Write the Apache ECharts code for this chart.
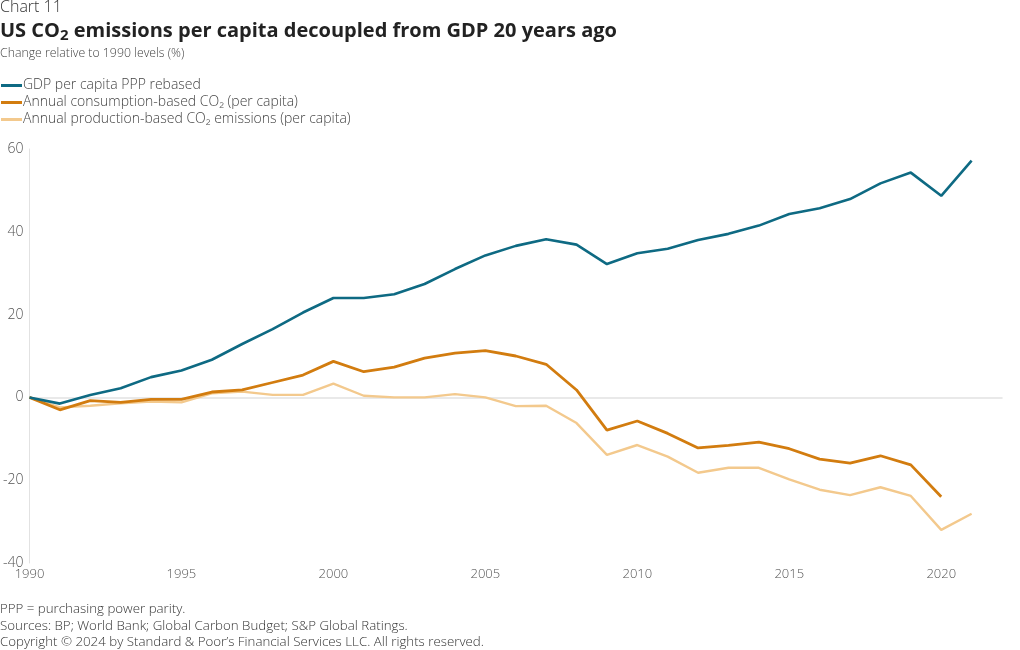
<!DOCTYPE html>
<html><head><meta charset="utf-8">
<script src="https://cdn.jsdelivr.net/npm/echarts@6/dist/echarts.min.js"></script>
<style>html,body{margin:0;padding:0;background:#fff}#c{width:1020px;height:650px}</style>
</head><body><div id="c"></div>
<script>
const years = [1990,1991,1992,1993,1994,1995,1996,1997,1998,1999,2000,2001,2002,2003,2004,2005,2006,2007,2008,2009,2010,2011,2012,2013,2014,2015,2016,2017,2018,2019,2020,2021];
const gdp = [0,-1.5,0.6,2.2,4.9,6.5,9.1,12.9,16.5,20.5,24.0,24.0,24.9,27.4,31.0,34.3,36.6,38.2,36.9,32.2,34.8,35.9,38.0,39.5,41.5,44.3,45.7,47.9,51.7,54.3,48.7,57.2];
const consumption = [0,-3.0,-0.8,-1.2,-0.5,-0.5,1.3,1.8,3.6,5.4,8.7,6.2,7.3,9.5,10.7,11.3,10.0,8.0,1.8,-7.9,-5.7,-8.7,-12.2,-11.6,-10.8,-12.4,-14.9,-15.9,-14.1,-16.3,-24.0,null];
const production = [0,-2.4,-2.0,-1.4,-1.0,-1.2,1.0,1.4,0.6,0.6,3.3,0.4,0.0,0.0,0.8,0.0,-2.1,-2.0,-6.2,-13.9,-11.5,-14.3,-18.2,-17.0,-17.0,-19.8,-22.3,-23.6,-21.7,-23.8,-32.0,-28.1];
const seriesNames = ['GDP per capita PPP rebased','Annual consumption-based CO\u2082 (per capita)','Annual production-based CO\u2082 emissions (per capita)'];
const colors = ['#0e6a83','#d27c0f','#f3c98d'];
const yTicks = {min:-40, max:60, interval:20};
const xTicks = {min:1990, max:2022, interval:5};

const pair = arr => years.map((y,i)=>[y,arr[i]]);
const FONT = '"Open Sans", Roboto, sans-serif';
const chart = echarts.init(document.getElementById('c'));
chart.setOption({
  animation:false,
  textStyle:{fontFamily:FONT},
  title:[
    {text:'Chart 11', left:0, top:-1, padding:0, textStyle:{fontFamily:FONT, fontWeight:300, fontSize:16, color:'#333'}},
    {text:'US CO{sub|2} emissions per capita decoupled from GDP 20 years ago', left:0, top:19, padding:0,
      textStyle:{fontFamily:FONT, fontWeight:'bold', fontSize:20, color:'#222',
        rich:{sub:{fontFamily:FONT, fontWeight:'bold', fontSize:15, color:'#222', padding:[9,0,0,0]}}}},
    {text:'Change relative to 1990 levels (%)', left:0, top:47, padding:0, textStyle:{fontFamily:FONT, fontWeight:300, fontSize:12.3, color:'#444'}},
    {text:'PPP = purchasing power parity.\nSources: BP; World Bank; Global Carbon Budget; S&P Global Ratings.\nCopyright \u00a9 2024 by Standard & Poor\u2019s Financial Services LLC. All rights reserved.',
      left:0, top:601, padding:0, textStyle:{fontFamily:FONT, fontWeight:300, fontSize:13.3, lineHeight:16.5, color:'#333'}}
  ],
  legend:{orient:'vertical', left:1, top:77, padding:0, itemGap:0, itemWidth:21, itemHeight:3, icon:'rect',
    textStyle:{fontFamily:FONT, fontWeight:300, fontSize:14, lineHeight:17, color:'#444', padding:[0,0,0,-4]},
    data:seriesNames},
  grid:{left:28, right:18, top:149, bottom:87, containLabel:false},
  xAxis:{type:'value', min:xTicks.min, max:xTicks.max, interval:xTicks.interval,
    axisLine:{show:true, onZero:true, lineStyle:{color:'#e2e2e2', width:1.5}},
    axisTick:{show:false}, splitLine:{show:false},
    axisLabel:{show:true, showMaxLabel:false, color:'#555', fontSize:13, fontWeight:300, fontFamily:FONT, margin:5, formatter:v=>String(v)},
    position:'bottom'},
  yAxis:{type:'value', min:yTicks.min, max:yTicks.max, interval:yTicks.interval,
    axisLine:{show:true, lineStyle:{color:'#e2e2e2', width:1}},
    axisTick:{show:false}, splitLine:{show:false},
    axisLabel:{color:'#555', fontSize:14, fontWeight:300, fontFamily:FONT, margin:6}},
  series:[
    {name:seriesNames[0], type:'line', data:pair(gdp), symbol:'none', lineStyle:{width:2.6, color:colors[0]}, itemStyle:{color:colors[0]}, z:4},
    {name:seriesNames[1], type:'line', data:pair(consumption), symbol:'none', lineStyle:{width:2.8, color:colors[1]}, itemStyle:{color:colors[1]}, z:3},
    {name:seriesNames[2], type:'line', data:pair(production), symbol:'none', lineStyle:{width:2.4, color:colors[2]}, itemStyle:{color:colors[2]}, z:2}
  ]
});
</script></body></html>
